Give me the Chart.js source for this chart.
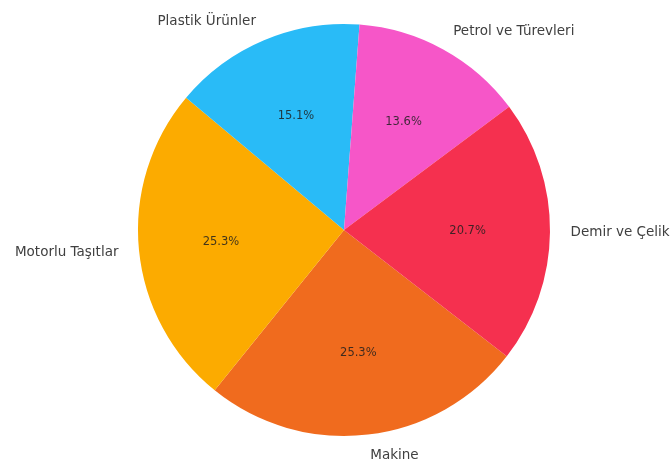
<!DOCTYPE html>
<html>
<head>
<meta charset="utf-8">
<script src="https://cdn.jsdelivr.net/npm/chart.js@4"></script>
<style>
  html, body { margin: 0; padding: 0; background: #fff; }
  #wrap { width: 672px; height: 461px; }
</style>
</head>
<body>
<div id="wrap"><canvas id="myChart" width="672" height="461"></canvas></div>
<script>
// dilimler saat yönünde, Makine'den başlayarak
const categories = ["Makine", "Motorlu Taşıtlar", "Plastik Ürünler", "Petrol ve Türevleri", "Demir ve Çelik"];
const shares = [25.3, 25.3, 15.1, 13.6, 20.7];
const colors = ["#f06b1e", "#fcab00", "#29bbf7", "#f656c8", "#f5304f"];

// matplotlib tarzı etiketler: isim dışarıda (1.1r), yüzde içeride (0.6r)
const pieLabels = {
  id: "pieLabels",
  afterDraw(chart) {
    const ctx = chart.ctx;
    const meta = chart.getDatasetMeta(0);
    const total = shares.reduce((a, b) => a + b, 0);
    ctx.save();
    meta.data.forEach((arc, i) => {
      const p = arc.getProps(["x", "y", "startAngle", "endAngle", "outerRadius"], true);
      const mid = (p.startAngle + p.endAngle) / 2;
      const cos = Math.cos(mid), sin = Math.sin(mid);

      // yüzde
      ctx.font = "11.5px 'DejaVu Sans'";
      ctx.fillStyle = "rgba(30,30,30,0.85)";
      ctx.textAlign = "center";
      ctx.textBaseline = "middle";
      const pct = (shares[i] / total * 100).toFixed(1) + "%";
      ctx.fillText(pct, p.x + cos * p.outerRadius * 0.6, p.y + sin * p.outerRadius * 0.6);

      // kategori adı
      ctx.font = "13.5px 'DejaVu Sans'";
      ctx.fillStyle = "#404040";
      ctx.textAlign = cos >= 0 ? "left" : "right";
      ctx.fillText(categories[i], p.x + cos * p.outerRadius * 1.1, p.y + sin * p.outerRadius * 1.1);
    });
    ctx.restore();
  }
};

const ctx = document.getElementById("myChart");
new Chart(ctx, {
  type: "pie",
  data: {
    labels: categories,
    datasets: [{
      data: shares,
      backgroundColor: colors,
      borderWidth: 0,
    }],
  },
  options: {
    responsive: false,
    animation: false,
    rotation: 127.8,
    layout: {
      padding: { left: 138, right: 122, top: 24, bottom: 25 },
    },
    plugins: {
      legend: { display: false },
      tooltip: { enabled: false },
    },
  },
  plugins: [pieLabels],
});
</script>
</body>
</html>
